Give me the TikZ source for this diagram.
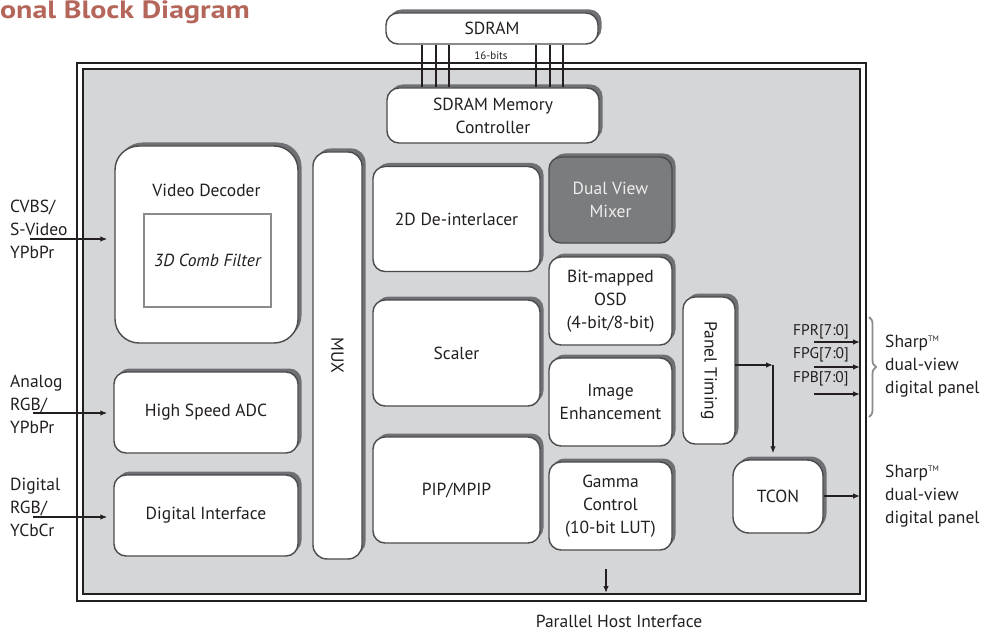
\documentclass[tikz,border=0pt]{standalone}
\usepackage{fontspec}
\setmainfont{PT Sans}
\usetikzlibrary{shadows,arrows.meta,decorations.pathreplacing}
\definecolor{bgc}{HTML}{D5D6D8}
\definecolor{shadc}{HTML}{6F7073}
\definecolor{bordc}{HTML}{4A4B4D}
\definecolor{txt}{HTML}{231F20}
\definecolor{dvmc}{HTML}{7B7C7E}
\definecolor{combc}{HTML}{8A8B8D}
\definecolor{titlec}{HTML}{B5665A}
\definecolor{bracec}{HTML}{8C8C8C}
\newcommand{\tmark}{\raisebox{5.5pt}{\fontsize{8}{8}\selectfont TM}}
\begin{document}
\begin{tikzpicture}[x=1pt,y=-1pt,
  lbl/.style={font=\fontsize{17.5}{23}\selectfont, text=txt, align=center, inner sep=0pt},
  blk/.style={draw=bordc, line width=1.4pt, fill=white, rounded corners=12pt, align=center,
    font=\fontsize{17.5}{23}\selectfont, text=txt, inner sep=0pt,
    drop shadow={shadow xshift=3.5pt, shadow yshift=3.5pt, fill=shadc, opacity=1}},
  arr/.style={line width=1.3pt, draw=txt, -{Latex[length=7pt,width=5.5pt]}},
  sig/.style={font=\fontsize{15.5}{17}\selectfont, text=txt, inner sep=0pt, anchor=west},
]
\useasboundingbox (0,0) rectangle (985,631);

% title
\node[font=\fontsize{25}{28}\selectfont\bfseries, text=titlec, anchor=base east, inner sep=0pt] (title) at (250,19) {\scalebox{1.2}[1]{onal Block Diagram}};

% frame
\draw[line width=1.2pt, draw=txt] (77,63) rectangle (866,601);
\fill[bgc] (83,69) rectangle (860,594);
\draw[line width=1.2pt, draw=txt] (83,69) rectangle (860,594);

% SDRAM
\node[blk, minimum width=212pt, minimum height=31pt] (sdram) at (492,28.5) {SDRAM};
\node[blk, minimum width=212pt, minimum height=55pt] (smc) at (493,115.5) {SDRAM Memory\\Controller};
\foreach \xx in {422,436,449,536,550,563}{
  \draw[line width=1.3pt, draw=txt] (sdram.south -| \xx,0) -- (smc.north -| \xx,0);
}
\node[font=\fontsize{11}{12}\selectfont, text=txt, inner sep=0pt] (bits) at (491,56) {16-bits};

% left column
\node[blk, rounded corners=24pt, minimum width=183pt, minimum height=197pt] (vdec) at (206.5,244.5) {};
\node[lbl] (vdect) at (206.5,190) {Video Decoder};
\node[draw=combc, line width=1.4pt, fill=white, minimum width=127pt, minimum height=93pt, inner sep=0pt,
  font=\fontsize{17.5}{23}\selectfont\itshape, text=txt] (comb) at (207.5,260.5) {3D Comb Filter};
\node[blk, minimum width=184pt, minimum height=81pt] (adc) at (206,412.5) {High Speed ADC};
\node[blk, minimum width=184pt, minimum height=81pt] (dig) at (206,515.5) {Digital Interface};

% MUX
\node[blk, rounded corners=14pt, minimum width=49pt, minimum height=407pt] (mux) at (337.5,355.5) {};
\node[lbl, rotate=-90] (muxt) at (mux.center) {MUX};

% middle column
\node[blk, minimum width=167pt, minimum height=105pt] (deint) at (456.5,219) {2D De-interlacer};
\node[blk, minimum width=167pt, minimum height=106pt] (scal) at (456.5,353) {Scaler};
\node[blk, minimum width=167pt, minimum height=106pt] (pip) at (456.5,490) {PIP/MPIP};

% right column
\node[blk, fill=dvmc, text=white!93!black, minimum width=123pt, minimum height=86pt] (dvm) at (610.5,200) {Dual View\\Mixer};
\node[blk, minimum width=123pt, minimum height=88pt] (osd) at (610.5,301) {Bit-mapped\\OSD\\(4-bit/8-bit)};
\node[blk, minimum width=123pt, minimum height=88pt] (enh) at (610.5,402) {Image\\Enhancement};
\node[blk, minimum width=123pt, minimum height=88pt] (gam) at (610.5,506) {Gamma\\Control\\(10-bit LUT)};

% panel timing and TCON
\node[blk, minimum width=52pt, minimum height=147pt] (ptim) at (709,370.5) {};
\node[lbl, rotate=-90] (ptimt) at (ptim.center) {Panel Timing};
\node[blk, rounded corners=16pt, minimum width=90pt, minimum height=73pt] (tcon) at (778,496.5) {TCON};

\coordinate (pts) at (735,365);
\coordinate (cor) at (773,365);
\draw[arr] (pts) -- (cor);
\draw[arr, shorten >=6pt] (cor) -- (cor |- tcon.north);
\coordinate (tout) at (860,496);
\draw[arr] (tcon.east |- tout) -- (tout);

% FP signals
\coordinate (fr0) at (814,342); \coordinate (fr1) at (860,342);
\coordinate (fg0) at (814,367); \coordinate (fg1) at (860,367);
\coordinate (fb0) at (814,394); \coordinate (fb1) at (860,394);
\draw[arr] (fr0) -- (fr1);
\draw[arr] (fg0) -- (fg1);
\draw[arr] (fb0) -- (fb1);
\node[sig] (fpr) at (793,332) {FPR[7:0]};
\node[sig] (fpg) at (793,355) {FPG[7:0]};
\node[sig] (fpb) at (793,379) {FPB[7:0]};

\draw[decorate, decoration={brace, amplitude=7pt}, draw=bracec, line width=1.8pt] (869,317) -- (869,417);
\node[lbl, align=left, anchor=west] (sh1) at (885,366) {Sharp\tmark\\dual-view\\digital panel};
\node[lbl, align=left, anchor=west] (sh2) at (885,496) {Sharp\tmark\\dual-view\\digital panel};

% inputs
\node[lbl, align=left, anchor=west] (in1t) at (10,229.5) {CVBS/\\S-Video\\YPbPr};
\node[lbl, align=left, anchor=west] (in2t) at (10,404) {Analog\\RGB/\\YPbPr};
\node[lbl, align=left, anchor=west] (in3t) at (10,507) {Digital\\RGB/\\YCbCr};
\coordinate (in1) at (30,239);
\coordinate (in2) at (33,413);
\coordinate (in3) at (33,517);
\draw[arr, shorten >=7pt] (in1) -- (in1 -| vdec.west);
\draw[arr, shorten >=6pt] (in2) -- (in2 -| adc.west);
\draw[arr, shorten >=6pt] (in3) -- (in3 -| dig.west);

% host interface
\coordinate (h0) at (606,569);
\coordinate (h1) at (606,593);
\draw[arr] (h0) -- (h1);
\node[lbl] (host) at (619,621) {Parallel Host Interface};
\end{tikzpicture}
\end{document}
